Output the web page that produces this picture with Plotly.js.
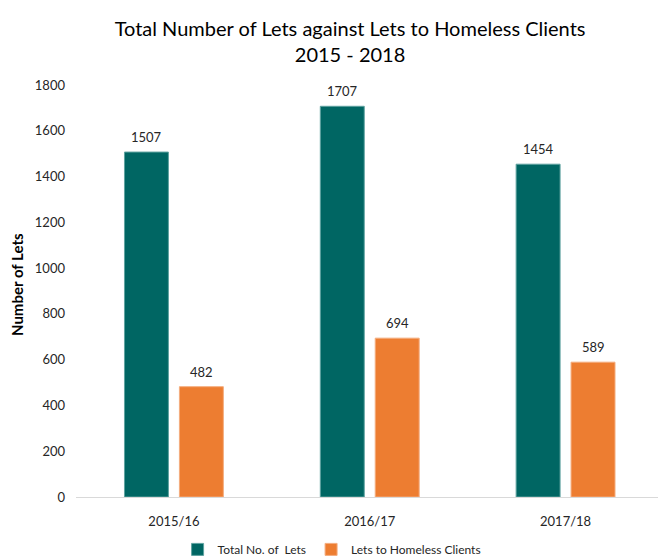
<!DOCTYPE html>
<html>
<head>
<meta charset="utf-8">
<script src="https://cdn.plot.ly/plotly-3.0.1.min.js"></script>
<style>html,body{margin:0;padding:0;background:#fff;overflow:hidden}#chart{width:658px;height:558px}</style>
</head>
<body>
<div id="chart"></div>
<script>
var categories = ["2015/16", "2016/17", "2017/18"];
var totalLets = [1507, 1707, 1454];
var homelessLets = [482, 694, 589];
var seriesNames = ["Total No. of  Lets", "Lets to Homeless Clients"];
var yTicks = [0, 200, 400, 600, 800, 1000, 1200, 1400, 1600, 1800];

var FONT = "Lato, 'Open Sans', sans-serif";
var traces = [
  {type: "bar", name: seriesNames[0], x: categories, y: totalLets,
   marker: {color: "#006663", line: {color: "#5fa3a0", width: 1}}},
  {type: "bar", name: seriesNames[1], x: categories, y: homelessLets,
   marker: {color: "#ED7D31", line: {color: "#f4ad7f", width: 1}}}
];
var annotations = [];
[totalLets, homelessLets].forEach(function (vals, s) {
  vals.forEach(function (v, i) {
    annotations.push({x: categories[i], y: v, xref: "x", yref: "y",
      text: String(v), showarrow: false, xanchor: "center", yanchor: "bottom",
      xshift: s === 0 ? -27.5 : 27.5, yshift: 5,
      font: {family: FONT, size: 13, color: "#262626"}});
  });
});
var plotW = 658 - 76, plotH = 558 - 85 - 61;
annotations.push({x: (17 - 76) / plotW, xref: "paper", y: (497 - 285) / plotH, yref: "paper",
  text: "<b>Number of Lets</b>", showarrow: false, textangle: -90,
  xanchor: "center", yanchor: "middle",
  font: {family: FONT, size: 15, color: "#000"}});

var layout = {
  width: 658, height: 558,
  margin: {l: 76, r: 0, t: 85, b: 61, autoexpand: false},
  paper_bgcolor: "#fff", plot_bgcolor: "#fff",
  font: {family: FONT, color: "#262626", size: 12},
  title: {text: "Total Number of Lets against Lets to Homeless Clients<br>2015 - 2018",
          x: 0.532, xanchor: "center", y: 0.935, yanchor: "top",
          font: {family: FONT, size: 20, color: "#000"}},
  barmode: "group", bargap: 0.439, bargroupgap: 0.2,
  xaxis: {type: "category", range: [-0.5, 2.472], showgrid: false, zeroline: false,
          showline: true, linecolor: "#d9d9d9", linewidth: 1, ticks: "",
          ticklabelstandoff: 12,
          tickfont: {family: FONT, size: 13, color: "#262626"}, fixedrange: true},
  yaxis: {range: [0, 1800], tickvals: yTicks, ticktext: yTicks.map(String),
          showgrid: false, zeroline: false, showline: false, ticks: "", ticklen: 0,
          ticklabelstandoff: 10,
          tickfont: {family: FONT, size: 13, color: "#262626"}},
  annotations: annotations,
  showlegend: true,
  legend: {orientation: "h", x: 0.44, xanchor: "center", y: -0.092, yanchor: "top",
           font: {family: FONT, size: 12, color: "#262626"}, itemwidth: 30,
           traceorder: "normal"}
};
Plotly.newPlot("chart", traces, layout, {displayModeBar: false, staticPlot: true});
</script>
</body>
</html>
